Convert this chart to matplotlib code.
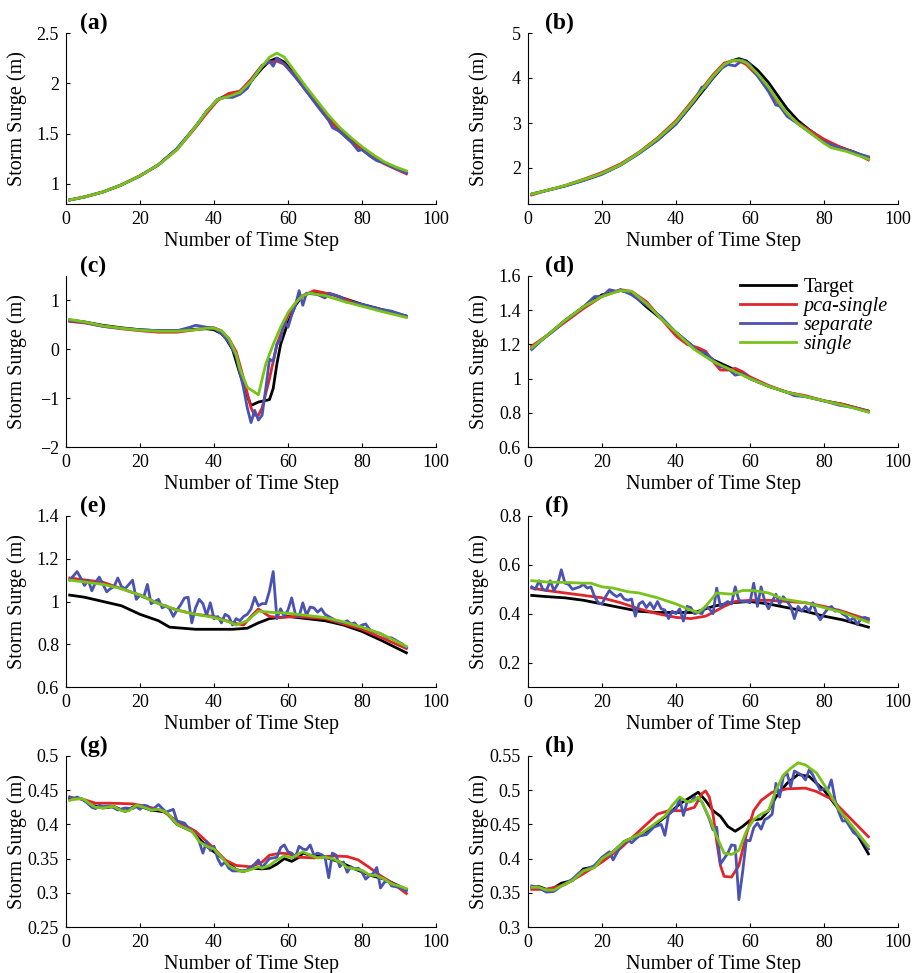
"""
Storm surge predictions vs target for eight stations, panels (a)-(h).
"""

import matplotlib

matplotlib.use("Agg")
import matplotlib.pyplot as plt

plt.rcParams["font.family"] = ["Liberation Serif", "DejaVu Serif"]

SERIES = ["Target", "pca-single", "separate", "single"]
COLORS = {"Target": "#000000", "pca-single": "#e0262a", "separate": "#4a52b2", "single": "#78c31a"}

# ---- panel (a)
a_target_x = [1, 5, 10, 15, 20, 25, 30, 35, 38, 41, 44, 47, 50, 53, 55, 57, 59, 62, 65, 68, 71, 74, 77, 80, 83, 86, 89, 92]
a_target_y = [0.84, 0.87, 0.92, 0.99, 1.08, 1.19, 1.35, 1.57, 1.72, 1.84, 1.89, 1.92, 2.02, 2.15, 2.22, 2.25, 2.21, 2.08, 1.94, 1.80, 1.66, 1.54, 1.44, 1.35, 1.27, 1.21, 1.16, 1.11]
a_pca_x = [1, 5, 10, 15, 20, 25, 30, 35, 38, 41, 44, 47, 50, 53, 55, 57, 59, 62, 65, 68, 71, 74, 77, 80, 83, 86, 89, 92]
a_pca_y = [0.84, 0.87, 0.92, 0.99, 1.08, 1.19, 1.34, 1.56, 1.70, 1.83, 1.90, 1.92, 2.04, 2.18, 2.21, 2.22, 2.19, 2.07, 1.92, 1.78, 1.64, 1.52, 1.42, 1.34, 1.26, 1.20, 1.15, 1.10]
a_sep_x = [1, 5, 10, 15, 20, 25, 30, 35, 38, 41, 43, 45, 47, 49, 51, 53, 55, 56, 57, 59, 62, 65, 68, 71, 72, 74, 77, 79, 80, 82, 84, 86, 88, 90, 92]
a_sep_y = [0.84, 0.87, 0.92, 0.99, 1.08, 1.19, 1.35, 1.57, 1.72, 1.84, 1.86, 1.86, 1.89, 1.95, 2.08, 2.17, 2.22, 2.17, 2.25, 2.19, 2.06, 1.92, 1.77, 1.63, 1.56, 1.52, 1.42, 1.33, 1.34, 1.28, 1.23, 1.21, 1.17, 1.14, 1.11]
a_single_x = [1, 5, 10, 15, 20, 25, 30, 35, 38, 41, 44, 47, 50, 53, 55, 57, 59, 62, 65, 68, 71, 74, 77, 80, 83, 86, 89, 92]
a_single_y = [0.84, 0.87, 0.92, 0.99, 1.08, 1.19, 1.34, 1.57, 1.72, 1.84, 1.87, 1.91, 2.02, 2.17, 2.26, 2.30, 2.26, 2.11, 1.96, 1.82, 1.68, 1.56, 1.46, 1.37, 1.29, 1.22, 1.17, 1.13]

# ---- panel (b)
b_target_x = [1, 5, 10, 15, 20, 25, 30, 35, 40, 45, 50, 53, 55, 57, 59, 62, 65, 68, 70, 73, 76, 80, 84, 88, 92]
b_target_y = [1.42, 1.50, 1.60, 1.73, 1.87, 2.07, 2.33, 2.62, 2.98, 3.48, 4.00, 4.28, 4.38, 4.43, 4.38, 4.18, 3.90, 3.55, 3.32, 3.05, 2.85, 2.62, 2.47, 2.36, 2.22]
b_pca_x = [1, 5, 10, 15, 20, 25, 30, 35, 40, 45, 50, 53, 55, 57, 59, 62, 65, 68, 70, 73, 76, 80, 84, 88, 92]
b_pca_y = [1.40, 1.50, 1.61, 1.75, 1.90, 2.09, 2.35, 2.67, 3.05, 3.55, 4.07, 4.33, 4.38, 4.38, 4.30, 4.05, 3.75, 3.40, 3.20, 3.00, 2.84, 2.64, 2.48, 2.35, 2.18]
b_sep_x = [1, 5, 10, 15, 20, 25, 30, 35, 40, 45, 47, 48, 50, 52, 54, 56, 58, 60, 62, 65, 67, 68, 70, 73, 76, 78, 80, 84, 88, 92]
b_sep_y = [1.42, 1.50, 1.60, 1.72, 1.86, 2.06, 2.32, 2.62, 2.98, 3.50, 3.80, 3.78, 4.02, 4.20, 4.30, 4.27, 4.40, 4.30, 4.05, 3.70, 3.40, 3.38, 3.15, 2.98, 2.80, 2.68, 2.58, 2.45, 2.35, 2.25]
b_single_x = [1, 5, 10, 15, 20, 25, 30, 35, 40, 45, 50, 53, 55, 57, 59, 62, 65, 68, 70, 73, 76, 80, 82, 86, 92]
b_single_y = [1.42, 1.50, 1.61, 1.74, 1.88, 2.07, 2.34, 2.65, 3.02, 3.52, 4.04, 4.30, 4.38, 4.40, 4.34, 4.10, 3.80, 3.43, 3.22, 2.98, 2.80, 2.55, 2.45, 2.37, 2.20]

# ---- panel (c)
c_target_x = [1, 5, 10, 15, 20, 25, 30, 35, 38, 40, 42, 43, 45, 47, 49, 50, 52, 55, 56, 57, 58, 60, 62, 64, 67, 72, 76, 80, 85, 92]
c_target_y = [0.60, 0.56, 0.49, 0.44, 0.40, 0.38, 0.38, 0.41, 0.42, 0.40, 0.32, 0.25, 0.00, -0.50, -0.95, -1.15, -1.08, -1.03, -0.80, -0.30, 0.10, 0.55, 0.90, 1.10, 1.18, 1.12, 1.02, 0.92, 0.82, 0.68]
c_pca_x = [1, 5, 10, 15, 20, 25, 30, 35, 38, 40, 42, 44, 46, 48, 50, 51, 52, 53, 55, 57, 60, 63, 67, 72, 80, 92]
c_pca_y = [0.57, 0.54, 0.47, 0.42, 0.38, 0.35, 0.35, 0.40, 0.44, 0.44, 0.38, 0.22, -0.05, -0.60, -1.20, -1.35, -1.35, -1.20, -0.60, 0.10, 0.70, 1.05, 1.20, 1.12, 0.90, 0.67]
c_sep_x = [1, 5, 10, 15, 20, 25, 30, 33, 35, 36, 38, 40, 42, 44, 46, 48, 49, 50, 51, 52, 53, 54, 55, 56, 57, 58, 59, 60, 61, 62, 63, 64, 65, 68, 70, 71, 74, 76, 78, 80, 85, 88, 92]
c_sep_y = [0.59, 0.55, 0.47, 0.43, 0.40, 0.38, 0.38, 0.44, 0.49, 0.48, 0.45, 0.43, 0.32, 0.15, -0.15, -0.80, -1.20, -1.50, -1.25, -1.45, -1.35, -0.80, -0.20, -0.25, 0.10, 0.20, 0.60, 0.45, 0.70, 0.90, 1.20, 0.90, 1.15, 1.12, 1.05, 1.15, 1.08, 0.96, 0.95, 0.92, 0.82, 0.78, 0.68]
c_single_x = [1, 5, 10, 15, 20, 25, 30, 35, 38, 40, 42, 44, 46, 47, 49, 52, 54, 56, 58, 60, 62, 64, 66, 70, 75, 80, 85, 92]
c_single_y = [0.61, 0.56, 0.48, 0.43, 0.39, 0.37, 0.37, 0.40, 0.43, 0.43, 0.38, 0.22, -0.10, -0.40, -0.78, -0.93, -0.30, 0.10, 0.45, 0.75, 0.95, 1.10, 1.15, 1.10, 0.98, 0.88, 0.78, 0.65]

# ---- panel (d)
d_target_x = [1, 5, 10, 15, 20, 25, 28, 32, 36, 40, 45, 50, 55, 60, 65, 70, 75, 80, 85, 92]
d_target_y = [1.18, 1.25, 1.34, 1.42, 1.49, 1.515, 1.50, 1.42, 1.35, 1.27, 1.18, 1.11, 1.06, 1.00, 0.955, 0.92, 0.895, 0.87, 0.85, 0.81]
d_pca_x = [1, 5, 10, 15, 20, 25, 28, 32, 36, 40, 43, 46, 48, 50, 52, 54, 56, 58, 60, 65, 70, 75, 80, 85, 92]
d_pca_y = [1.19, 1.25, 1.33, 1.41, 1.48, 1.52, 1.51, 1.45, 1.35, 1.25, 1.20, 1.18, 1.16, 1.10, 1.05, 1.05, 1.06, 1.04, 1.01, 0.96, 0.92, 0.90, 0.87, 0.85, 0.81]
d_sep_x = [1, 4, 7, 10, 12, 15, 18, 20, 22, 24, 25, 28, 32, 36, 40, 44, 46, 48, 50, 52, 54, 56, 58, 60, 65, 70, 72, 75, 80, 84, 88, 92]
d_sep_y = [1.17, 1.23, 1.28, 1.34, 1.37, 1.42, 1.48, 1.48, 1.52, 1.51, 1.52, 1.49, 1.43, 1.36, 1.27, 1.20, 1.16, 1.15, 1.11, 1.07, 1.06, 1.02, 1.03, 1.00, 0.955, 0.92, 0.90, 0.895, 0.87, 0.845, 0.83, 0.805]
d_single_x = [1, 5, 10, 15, 20, 25, 28, 32, 36, 40, 45, 50, 55, 60, 65, 70, 75, 80, 85, 92]
d_single_y = [1.18, 1.25, 1.34, 1.42, 1.48, 1.515, 1.51, 1.44, 1.35, 1.27, 1.17, 1.10, 1.05, 1.00, 0.955, 0.92, 0.895, 0.87, 0.845, 0.805]

# ---- panel (e)
e_target_x = [1, 5, 10, 15, 20, 25, 28, 35, 45, 49, 52, 55, 60, 65, 70, 75, 80, 85, 92]
e_target_y = [1.03, 1.02, 1.00, 0.98, 0.94, 0.91, 0.88, 0.87, 0.87, 0.875, 0.90, 0.92, 0.93, 0.92, 0.91, 0.89, 0.86, 0.82, 0.76]
e_pca_x = [1, 10, 15, 20, 25, 30, 35, 40, 45, 48, 50, 52, 55, 58, 62, 70, 80, 92]
e_pca_y = [1.11, 1.09, 1.06, 1.03, 0.99, 0.96, 0.94, 0.93, 0.90, 0.89, 0.93, 0.965, 0.93, 0.925, 0.93, 0.92, 0.87, 0.78]
e_sep_x = list(range(1, 93))
e_sep_y = [1.10, 1.12, 1.14, 1.11, 1.075, 1.10, 1.05, 1.09, 1.114, 1.08, 1.045, 1.06, 1.07, 1.11, 1.07, 1.06, 1.08, 1.10, 1.01, 1.03,
           1.02, 1.08, 0.99, 1.00, 1.01, 0.97, 0.98, 0.966, 0.93, 0.96, 0.985, 1.016, 1.02, 0.90, 0.97, 1.01, 0.99, 0.935, 0.994, 0.92,
           0.93, 0.90, 0.94, 0.93, 0.89, 0.92, 0.91, 0.93, 0.94, 0.965, 1.02, 0.98, 0.99, 0.99, 1.05, 1.14, 0.92, 0.966, 0.93, 0.96,
           1.017, 0.94, 0.93, 0.994, 0.935, 0.974, 0.97, 0.95, 0.966, 0.94, 0.93, 0.92, 0.91, 0.905, 0.90, 0.91, 0.895, 0.90, 0.88, 0.89,
           0.895, 0.87, 0.86, 0.855, 0.85, 0.84, 0.83, 0.83, 0.82, 0.81, 0.80, 0.785]
e_single_x = [1, 10, 15, 20, 25, 30, 35, 40, 44, 46, 49, 52, 55, 60, 65, 70, 75, 80, 85, 92]
e_single_y = [1.10, 1.08, 1.06, 1.03, 0.99, 0.96, 0.94, 0.925, 0.905, 0.89, 0.91, 0.955, 0.95, 0.945, 0.935, 0.925, 0.905, 0.88, 0.85, 0.79]

# ---- panel (f)
f_target_x = [1, 5, 10, 15, 20, 25, 30, 35, 40, 45, 50, 55, 60, 65, 70, 75, 80, 85, 92]
f_target_y = [0.475, 0.47, 0.465, 0.455, 0.44, 0.425, 0.41, 0.405, 0.405, 0.405, 0.43, 0.445, 0.45, 0.44, 0.425, 0.41, 0.39, 0.375, 0.345]
f_pca_x = [1, 5, 10, 15, 20, 25, 30, 35, 40, 44, 48, 50, 53, 56, 60, 65, 70, 75, 80, 85, 92]
f_pca_y = [0.505, 0.495, 0.485, 0.475, 0.465, 0.445, 0.42, 0.40, 0.385, 0.38, 0.39, 0.405, 0.43, 0.45, 0.455, 0.455, 0.45, 0.445, 0.43, 0.41, 0.375]
f_sep_x = list(range(1, 93))
f_sep_y = [0.51, 0.50, 0.535, 0.50, 0.495, 0.535, 0.495, 0.52, 0.58, 0.525, 0.52, 0.50, 0.505, 0.51, 0.52, 0.505, 0.51, 0.47, 0.445, 0.44,
           0.47, 0.495, 0.48, 0.47, 0.48, 0.46, 0.455, 0.46, 0.39, 0.44, 0.45, 0.425, 0.445, 0.42, 0.45, 0.42, 0.415, 0.38, 0.41, 0.40,
           0.42, 0.37, 0.43, 0.425, 0.40, 0.405, 0.40, 0.43, 0.42, 0.40, 0.505, 0.43, 0.44, 0.45, 0.44, 0.51, 0.455, 0.45, 0.45, 0.445,
           0.525, 0.43, 0.51, 0.45, 0.42, 0.45, 0.48, 0.44, 0.47, 0.45, 0.43, 0.38, 0.43, 0.41, 0.43, 0.41, 0.445, 0.40, 0.375, 0.40,
           0.42, 0.43, 0.41, 0.415, 0.40, 0.39, 0.37, 0.385, 0.355, 0.38, 0.385, 0.38]
f_single_x = [1, 5, 10, 15, 17, 20, 23, 27, 30, 35, 40, 44, 46, 48, 51, 55, 58, 61, 65, 69, 75, 80, 85, 92]
f_single_y = [0.535, 0.53, 0.528, 0.525, 0.525, 0.51, 0.505, 0.49, 0.485, 0.465, 0.44, 0.415, 0.405, 0.43, 0.485, 0.48, 0.495, 0.495, 0.485, 0.46, 0.445, 0.425, 0.405, 0.365]

# ---- panel (g)
g_single_x = [1, 2, 3, 4, 5, 6, 7, 8, 10, 12, 13, 15, 16, 17, 19, 21, 23, 25, 27, 28, 30, 32, 34, 35, 36, 38, 40, 42, 44, 46, 47, 48,
              50, 52, 53, 55, 57, 59, 61, 62, 64, 66, 68, 70, 72, 74, 76, 78, 80, 82, 84, 86, 88, 90, 92]
g_single_y = [0.435, 0.437, 0.437, 0.438, 0.436, 0.432, 0.428, 0.425, 0.424, 0.426, 0.426, 0.42, 0.419, 0.42, 0.428, 0.425, 0.421, 0.422,
              0.418, 0.413, 0.40, 0.395, 0.39, 0.383, 0.375, 0.368, 0.364, 0.352, 0.34, 0.334, 0.332, 0.331, 0.334, 0.338, 0.336, 0.34,
              0.348, 0.354, 0.351, 0.354, 0.36, 0.355, 0.351, 0.352, 0.35, 0.345, 0.337, 0.335, 0.333, 0.326, 0.325, 0.32, 0.313, 0.31, 0.306]
g_target_x = [1, 4, 7, 10, 13, 16, 19, 23, 27, 30, 34, 38, 42, 46, 48, 50, 53, 55, 57, 59, 61, 63, 64, 66, 70, 74, 78, 82, 86, 90, 92]
g_target_y = [0.437, 0.438, 0.428, 0.424, 0.426, 0.419, 0.428, 0.421, 0.418, 0.40, 0.39, 0.368, 0.352, 0.334, 0.331, 0.336, 0.335, 0.336,
              0.342, 0.35, 0.346, 0.352, 0.358, 0.355, 0.352, 0.345, 0.335, 0.326, 0.32, 0.31, 0.305]
g_pca_x = [1, 5, 8, 12, 18, 22, 26, 30, 35, 40, 43, 46, 50, 53, 55, 58, 60, 63, 67, 72, 76, 79, 82, 85, 88, 92]
g_pca_y = [0.44, 0.436, 0.431, 0.431, 0.43, 0.426, 0.42, 0.405, 0.39, 0.365, 0.348, 0.34, 0.338, 0.345, 0.355, 0.358, 0.357, 0.352,
           0.351, 0.354, 0.353, 0.348, 0.337, 0.325, 0.315, 0.299]
g_sep_x = [1, 2, 3, 5, 7, 8, 9, 10, 12, 14, 16, 18, 19, 20, 21, 22, 23, 25, 27, 29, 30, 32, 33, 34, 35, 36, 37, 38, 39, 40, 41, 42, 43,
           44, 45, 47, 49, 51, 52, 53, 55, 57, 58, 59, 60, 61, 62, 63, 64, 65, 66, 67, 68, 69, 70, 71, 72, 73, 74, 75, 76, 77, 78, 79,
           80, 81, 82, 83, 84, 85, 86, 87, 88, 90, 92]
g_sep_y = [0.44, 0.437, 0.44, 0.435, 0.425, 0.423, 0.428, 0.426, 0.427, 0.421, 0.424, 0.423, 0.426, 0.422, 0.428, 0.427, 0.42, 0.429,
           0.418, 0.422, 0.405, 0.402, 0.395, 0.39, 0.385, 0.375, 0.358, 0.375, 0.362, 0.368, 0.35, 0.34, 0.345, 0.336, 0.332, 0.332,
           0.333, 0.342, 0.348, 0.337, 0.35, 0.352, 0.366, 0.37, 0.36, 0.358, 0.352, 0.368, 0.364, 0.363, 0.37, 0.355, 0.358, 0.356,
           0.352, 0.322, 0.358, 0.355, 0.338, 0.345, 0.33, 0.338, 0.335, 0.336, 0.33, 0.32, 0.325, 0.328, 0.337, 0.307, 0.315, 0.318,
           0.31, 0.308, 0.303]

# ---- panel (h)
h_target_x = [1, 3, 5, 7, 9, 12, 15, 18, 20, 23, 26, 29, 32, 35, 38, 41, 44, 46, 48, 50, 52, 54, 56, 58, 60, 63, 65, 67, 70, 73, 76,
              80, 85, 89, 92]
h_target_y = [0.358, 0.359, 0.355, 0.357, 0.364, 0.368, 0.385, 0.388, 0.40, 0.41, 0.425, 0.432, 0.44, 0.452, 0.465, 0.48, 0.49, 0.497,
              0.485, 0.47, 0.462, 0.447, 0.44, 0.447, 0.456, 0.458, 0.47, 0.49, 0.51, 0.523, 0.52, 0.50, 0.465, 0.435, 0.407]
h_pca_x = [1, 5, 10, 15, 20, 25, 30, 35, 38, 42, 45, 47, 48, 49, 50, 51, 52, 53, 55, 57, 59, 61, 63, 66, 70, 75, 78, 82, 86, 92]
h_pca_y = [0.355, 0.355, 0.362, 0.378, 0.395, 0.415, 0.44, 0.465, 0.47, 0.47, 0.475, 0.495, 0.499, 0.49, 0.465, 0.425, 0.39, 0.374,
           0.373, 0.39, 0.435, 0.47, 0.485, 0.497, 0.502, 0.503, 0.498, 0.487, 0.465, 0.432]
h_sep_x = [1, 3, 5, 7, 9, 12, 14, 16, 18, 20, 22, 23, 25, 27, 28, 30, 32, 34, 36, 37, 38, 40, 41, 42, 43, 44, 45, 47, 49, 50, 51, 52,
           53, 54, 55, 56, 57, 58, 59, 60, 61, 62, 63, 64, 65, 66, 67, 68, 69, 70, 71, 72, 73, 74, 75, 76, 77, 78, 79, 80, 81, 82, 83,
           84, 85, 86, 88, 90, 92]
h_sep_y = [0.36, 0.357, 0.351, 0.352, 0.36, 0.37, 0.38, 0.385, 0.39, 0.402, 0.41, 0.398, 0.418, 0.428, 0.423, 0.433, 0.435, 0.446,
           0.45, 0.434, 0.465, 0.473, 0.488, 0.463, 0.483, 0.483, 0.49, 0.483, 0.458, 0.442, 0.446, 0.392, 0.40, 0.408, 0.42, 0.419,
           0.34, 0.38, 0.427, 0.426, 0.445, 0.452, 0.443, 0.457, 0.46, 0.465, 0.51, 0.49, 0.52, 0.525, 0.505, 0.528, 0.525, 0.522,
           0.515, 0.53, 0.522, 0.51, 0.50, 0.502, 0.50, 0.515, 0.485, 0.468, 0.455, 0.455, 0.438, 0.43, 0.414]
h_single_x = [1, 3, 5, 7, 9, 12, 15, 18, 20, 23, 26, 28, 31, 34, 37, 39, 41, 43, 45, 46, 47, 49, 51, 53, 55, 57, 59, 61, 63, 65, 67,
              69, 71, 73, 75, 78, 81, 84, 88, 92]
h_single_y = [0.358, 0.358, 0.354, 0.354, 0.36, 0.368, 0.382, 0.387, 0.40, 0.41, 0.425, 0.43, 0.438, 0.45, 0.462, 0.478, 0.49, 0.483,
              0.485, 0.49, 0.482, 0.46, 0.432, 0.408, 0.406, 0.412, 0.44, 0.457, 0.465, 0.47, 0.50, 0.522, 0.532, 0.54, 0.537, 0.525,
              0.50, 0.472, 0.445, 0.418]

# panel letter, ylim, yticks, tick labels, and the four (x, y) pairs
PANELS = [
    ("(a)", (0.8, 2.5), [1, 1.5, 2, 2.5], ["1", "1.5", "2", "2.5"],
     [(a_target_x, a_target_y), (a_pca_x, a_pca_y), (a_sep_x, a_sep_y), (a_single_x, a_single_y)]),
    ("(b)", (1.2, 5), [2, 3, 4, 5], ["2", "3", "4", "5"],
     [(b_target_x, b_target_y), (b_pca_x, b_pca_y), (b_sep_x, b_sep_y), (b_single_x, b_single_y)]),
    ("(c)", (-2, 1.5), [-2, -1, 0, 1], ["\u22122", "\u22121", "0", "1"],
     [(c_target_x, c_target_y), (c_pca_x, c_pca_y), (c_sep_x, c_sep_y), (c_single_x, c_single_y)]),
    ("(d)", (0.6, 1.6), [0.6, 0.8, 1, 1.2, 1.4, 1.6], ["0.6", "0.8", "1", "1.2", "1.4", "1.6"],
     [(d_target_x, d_target_y), (d_pca_x, d_pca_y), (d_sep_x, d_sep_y), (d_single_x, d_single_y)]),
    ("(e)", (0.6, 1.4), [0.6, 0.8, 1, 1.2, 1.4], ["0.6", "0.8", "1", "1.2", "1.4"],
     [(e_target_x, e_target_y), (e_pca_x, e_pca_y), (e_sep_x, e_sep_y), (e_single_x, e_single_y)]),
    ("(f)", (0.1, 0.8), [0.2, 0.4, 0.6, 0.8], ["0.2", "0.4", "0.6", "0.8"],
     [(f_target_x, f_target_y), (f_pca_x, f_pca_y), (f_sep_x, f_sep_y), (f_single_x, f_single_y)]),
    ("(g)", (0.25, 0.5), [0.25, 0.3, 0.35, 0.4, 0.45, 0.5], ["0.25", "0.3", "0.35", "0.4", "0.45", "0.5"],
     [(g_target_x, g_target_y), (g_pca_x, g_pca_y), (g_sep_x, g_sep_y), (g_single_x, g_single_y)]),
    ("(h)", (0.3, 0.55), [0.3, 0.35, 0.4, 0.45, 0.5, 0.55], ["0.3", "0.35", "0.4", "0.45", "0.5", "0.55"],
     [(h_target_x, h_target_y), (h_pca_x, h_pca_y), (h_sep_x, h_sep_y), (h_single_x, h_single_y)]),
]

W, H = 919, 973
COL_LEFT = [66, 528]
ROW_TOP = [33, 276, 516, 756]
AX_W, AX_H = 370, 171

fig = plt.figure(figsize=(W / 100, H / 100), dpi=100)

for i, (letter, ylim, yticks, ylabels, data) in enumerate(PANELS):
    row, col = divmod(i, 2)
    left = COL_LEFT[col] / W
    bottom = 1 - (ROW_TOP[row] + AX_H) / H
    ax = fig.add_axes([left, bottom, AX_W / W, AX_H / H])

    for name, (xs, ys) in zip(SERIES, data):
        ax.plot(xs, ys, color=COLORS[name], lw=2.0, label=name, solid_joinstyle="round")

    ax.set_xlim(0, 100)
    ax.set_ylim(*ylim)
    ax.set_xticks([0, 20, 40, 60, 80, 100])
    ax.set_yticks(yticks)
    ax.set_yticklabels(ylabels)
    ax.spines["top"].set_visible(False)
    ax.spines["right"].set_visible(False)
    ax.tick_params(direction="in", length=3, labelsize=13, pad=5)
    xl = ax.set_xlabel("Number of Time Step", fontsize=14.5)
    xl.set_va("center")
    ax.xaxis.set_label_coords(0.5, -37 / AX_H)
    yl = ax.set_ylabel("Storm Surge (m)", fontsize=14.5)
    yl.set_va("center")
    ax.yaxis.set_label_coords(-49 / AX_W, 0.5)
    ax.text(0.038 if col == 0 else 0.046, 1.055, letter, transform=ax.transAxes,
            fontsize=17, fontweight="bold", va="center", ha="left")

    if letter == "(d)":
        leg = ax.legend(loc="upper left", bbox_to_anchor=(0.573, 0.99), frameon=False,
                        fontsize=14.5, handlelength=2.8, handletextpad=0.35, labelspacing=0.0,
                        borderpad=0, borderaxespad=0)
        for txt in leg.get_texts()[1:]:
            txt.set_fontstyle("italic")

fig.savefig("out.png", dpi=100)
